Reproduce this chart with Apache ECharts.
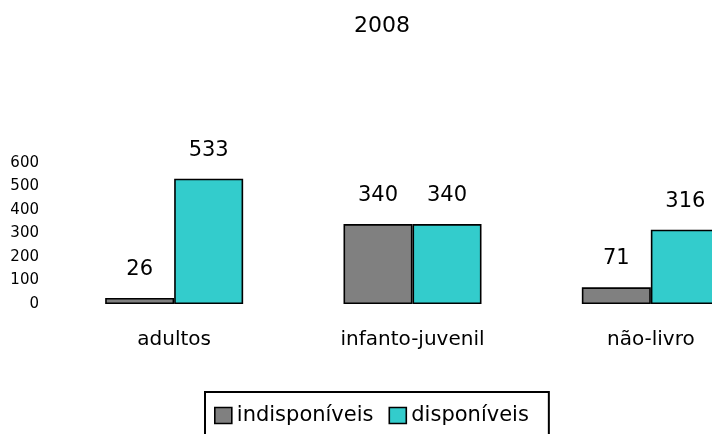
<!DOCTYPE html>
<html>
<head>
<meta charset="utf-8">
<script src="https://cdn.jsdelivr.net/npm/echarts@6/dist/echarts.min.js"></script>
<style>
  html, body { margin: 0; padding: 0; background: #fff; overflow: hidden; }
  /* o gráfico original é cortado à direita: desenha mais largo que a janela */
  #chart { width: 775px; height: 434px; }
</style>
</head>
<body>
<div id="chart"></div>
<script>
// dados
var categorias = ['adultos', 'infanto-juvenil', 'não-livro'];
var indisponiveis = [26, 340, 71];
var disponiveis = [533, 340, 316];
var ticksY = [0, 100, 200, 300, 400, 500, 600];

var fonte = 'DejaVu Sans';
var myChart = echarts.init(document.getElementById('chart'));

function barra(nome, dados, cor) {
  return {
    name: nome,
    type: 'bar',
    data: dados,
    barWidth: 69,
    barGap: '0%',
    itemStyle: {
      color: cor,
      borderColor: '#000',
      borderWidth: 1.6
    },
    label: {
      show: true,
      position: 'top',
      distance: 18,
      fontFamily: fonte,
      fontSize: 21,
      color: '#000'
    }
  };
}

var option = {
  backgroundColor: '#fff',
  animation: false,
  title: {
    text: '2008',
    left: 354,
    top: 15,
    padding: 0,
    textStyle: { fontFamily: fonte, fontSize: 22, fontWeight: 'normal', color: '#000' }
  },
  legend: {
    data: ['indisponíveis', 'disponíveis'],
    left: 205,
    top: 392,
    padding: [13, 20, 14, 9],
    borderColor: '#000',
    borderWidth: 2,
    itemWidth: 17,
    itemHeight: 16,
    itemGap: 15,
    icon: 'rect',
    itemStyle: { borderColor: '#000', borderWidth: 1.6 },
    textStyle: { fontFamily: fonte, fontSize: 21, color: '#000' }
  },
  grid: {
    left: 55,
    right: 5,
    top: 163,
    bottom: 130,
    containLabel: false
  },
  xAxis: {
    type: 'category',
    data: categorias,
    axisLine: { show: false },
    axisTick: { show: false },
    axisLabel: { margin: 26, fontFamily: fonte, fontSize: 20, color: '#000' }
  },
  yAxis: {
    type: 'value',
    min: ticksY[0],
    max: ticksY[ticksY.length - 1],
    interval: 100,
    axisLine: { show: false },
    axisTick: { show: false },
    splitLine: { show: false },
    axisLabel: {
      margin: 16,
      fontFamily: fonte,
      fontSize: 15,
      color: '#000',
      padding: [0, 0, 7, 0]
    }
  },
  series: [
    barra('indisponíveis', indisponiveis, '#808080'),
    barra('disponíveis', disponiveis, '#33cccc')
  ]
};

myChart.setOption(option);
</script>
</body>
</html>
